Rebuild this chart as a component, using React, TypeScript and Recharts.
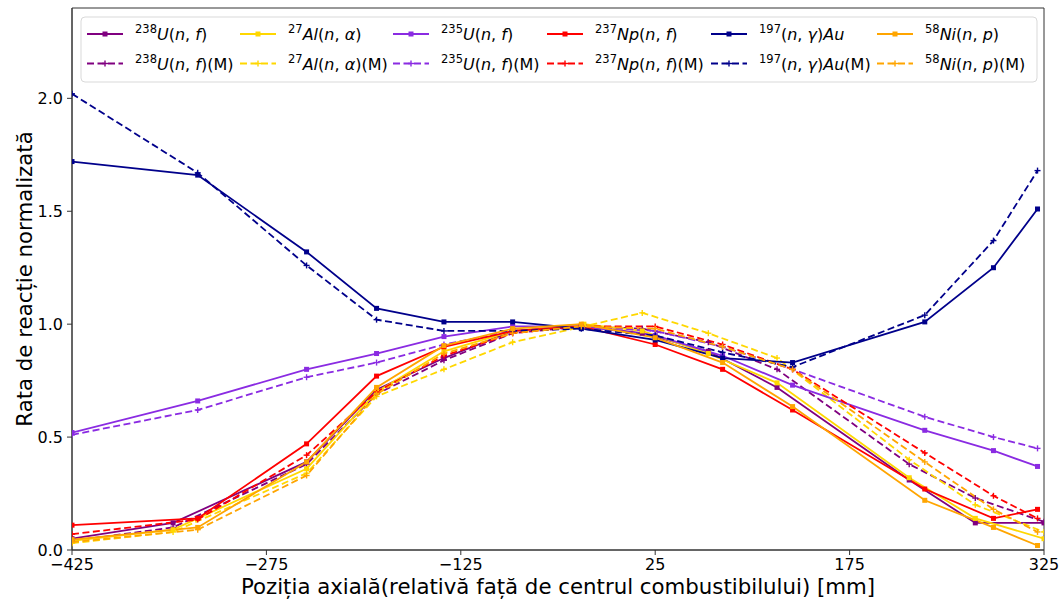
import React from "react";
import { LineChart, Line, XAxis, YAxis, ReferenceArea } from "recharts";

// axial positions (mm) of the two detector sets
const X_A = [-425, -328, -244, -190, -138, -85, -32, 25, 77, 131, 233, 286, 320];
const X_B = [-425, -347, -244, -190, -138, -85, -30, 15, 66, 119, 221, 272, 325];

const U238 = [0.05, 0.12, 0.39, 0.71, 0.85, 0.97, 0.99, 0.96, 0.88, 0.72, 0.31, 0.12, 0.12];
const U238_M = [0.04, 0.1, 0.38, 0.69, 0.84, 0.96, 0.99, 0.98, 0.92, 0.8, 0.38, 0.23, 0.125];
const AL27 = [0.04, 0.09, 0.36, 0.7, 0.88, 0.97, 1.0, 0.97, 0.87, 0.74, 0.32, 0.14, 0.05];
const AL27_M = [0.03, 0.08, 0.34, 0.68, 0.8, 0.92, 0.99, 1.05, 0.96, 0.85, 0.4, 0.2, 0.08];
const U235 = [0.52, 0.66, 0.8, 0.87, 0.945, 0.99, 0.99, 0.95, 0.86, 0.73, 0.53, 0.44, 0.37];
const U235_M = [0.51, 0.62, 0.765, 0.83, 0.91, 0.97, 0.99, 0.97, 0.9, 0.8, 0.59, 0.5, 0.45];
const NP237 = [0.11, 0.14, 0.47, 0.77, 0.9, 0.97, 0.99, 0.91, 0.8, 0.62, 0.27, 0.14, 0.18];
const NP237_M = [0.07, 0.135, 0.42, 0.7, 0.86, 0.96, 0.99, 0.99, 0.91, 0.8, 0.43, 0.24, 0.14];
const AU197 = [1.72, 1.66, 1.32, 1.07, 1.01, 1.01, 0.98, 0.93, 0.85, 0.83, 1.01, 1.25, 1.51];
const AU197_M = [2.02, 1.67, 1.26, 1.02, 0.97, 0.97, 0.98, 0.95, 0.875, 0.81, 1.04, 1.37, 1.68];
const NI58 = [0.046, 0.1, 0.39, 0.72, 0.905, 0.98, 1.0, 0.94, 0.83, 0.635, 0.22, 0.1, 0.02];
const NI58_M = [0.035, 0.09, 0.33, 0.69, 0.87, 0.96, 0.99, 0.98, 0.9, 0.8, 0.39, 0.18, 0.08];

const X_TICKS = [-425, -275, -125, 25, 175, 325];
const Y_TICKS = [0, 0.5, 1, 1.5, 2];

const FONT = "DejaVu Sans";

interface Series {
  id: string;
  iso: string;
  formula: string;
  model: boolean;
  color: string;
  xs: number[];
  ys: number[];
}

const SERIES: Series[] = [
  { id: "u238", iso: "238", formula: "U(n, f)", model: false, color: "#800080", xs: X_B, ys: U238 },
  { id: "u238m", iso: "238", formula: "U(n, f)", model: true, color: "#800080", xs: X_B, ys: U238_M },
  { id: "al27", iso: "27", formula: "Al(n, α)", model: false, color: "#FFD700", xs: X_B, ys: AL27 },
  { id: "al27m", iso: "27", formula: "Al(n, α)", model: true, color: "#FFD700", xs: X_B, ys: AL27_M },
  { id: "u235", iso: "235", formula: "U(n, f)", model: false, color: "#8A2BE2", xs: X_A, ys: U235 },
  { id: "u235m", iso: "235", formula: "U(n, f)", model: true, color: "#8A2BE2", xs: X_A, ys: U235_M },
  { id: "np237", iso: "237", formula: "Np(n, f)", model: false, color: "#FF0000", xs: X_A, ys: NP237 },
  { id: "np237m", iso: "237", formula: "Np(n, f)", model: true, color: "#FF0000", xs: X_A, ys: NP237_M },
  { id: "au197", iso: "197", formula: "(n, γ)Au", model: false, color: "#00008B", xs: X_A, ys: AU197 },
  { id: "au197m", iso: "197", formula: "(n, γ)Au", model: true, color: "#00008B", xs: X_A, ys: AU197_M },
  { id: "ni58", iso: "58", formula: "Ni(n, p)", model: false, color: "#FFA500", xs: X_A, ys: NI58 },
  { id: "ni58m", iso: "58", formula: "Ni(n, p)", model: true, color: "#FFA500", xs: X_A, ys: NI58_M },
];

// legend column left edges (page px)
const LEGEND_COLS = [87, 240, 393, 547, 711, 877];

function Marker({ cx, cy, color, plus }: { cx: number; cy: number; color: string; plus: boolean }) {
  if (plus) {
    return (
      <g stroke={color} strokeWidth={1.4}>
        <line x1={cx - 3} y1={cy} x2={cx + 3} y2={cy} />
        <line x1={cx} y1={cy - 3} x2={cx} y2={cy + 3} />
      </g>
    );
  }
  return <rect x={cx - 2.5} y={cy - 2.5} width={5} height={5} fill={color} />;
}

function fmtX(v: number) {
  return v < 0 ? `\u2212${Math.abs(v)}` : `${v}`;
}

function Formula({ text }: { text: string }) {
  return (
    <>
      {text.split("").map((ch, i) => (
        <tspan key={i} fontStyle={/[A-Za-zαγ]/.test(ch) ? "italic" : "normal"}>
          {ch}
        </tspan>
      ))}
    </>
  );
}

function LegendOverlay() {
  return (
    <svg
      width={1062}
      height={601}
      style={{ position: "absolute", left: 0, top: 0, pointerEvents: "none" }}>
      <rect x={81} y={17} width={956} height={65} rx={4} fill="#fff" fillOpacity={0.8} stroke="#d9d9d9" />
      {SERIES.map((s, i) => {
        const col = Math.floor(i / 2);
        const x0 = LEGEND_COLS[col];
        const y = s.model ? 63.5 : 34;
        return (
          <g key={s.id}>
            <line
              x1={x0}
              x2={x0 + 36}
              y1={y}
              y2={y}
              stroke={s.color}
              strokeWidth={1.8}
              strokeDasharray={s.model ? "7 3.5" : undefined}
            />
            <Marker cx={x0 + 18} cy={y} color={s.color} plus={s.model} />
            <text x={x0 + 48} y={y + 6} fontSize={16} fontFamily={FONT} fill="#000">
              <tspan fontSize={11.5} dy={-7}>
                {s.iso}
              </tspan>
              <tspan dy={7}>
                <Formula text={s.formula} />
              </tspan>
              {s.model && <tspan>(M)</tspan>}
            </text>
          </g>
        );
      })}
      <text x={558} y={594} textAnchor="middle" fontSize={21.3} fontFamily={FONT} fill="#000">
        Poziția axială(relativă față de centrul combustibilului) [mm]
      </text>
      <text
        x={0}
        y={0}
        transform="translate(32 279) rotate(-90)"
        textAnchor="middle"
        fontSize={21.3}
        fontFamily={FONT}
        fill="#000">
        Rata de reacție normalizată
      </text>
    </svg>
  );
}

export default function App() {
  return (
    <div style={{ position: "absolute", left: 0, top: 0, width: 1062, height: 601, background: "#fff" }}>
      <LineChart width={1062} height={601} margin={{ top: 8, right: 18, left: 0, bottom: 0 }}>
        <XAxis
          type="number"
          dataKey="x"
          domain={[-425, 325]}
          ticks={X_TICKS}
          tickFormatter={fmtX}
          allowDataOverflow
          height={51}
          tickSize={5}
          tickMargin={4}
          stroke="#333"
          tick={{ fontSize: 16, fontFamily: FONT, fill: "#000" }}
        />
        <YAxis
          type="number"
          domain={[0, 2.4]}
          ticks={Y_TICKS}
          tickFormatter={(v: number) => v.toFixed(1)}
          allowDataOverflow
          width={72}
          tickSize={5}
          tickMargin={4}
          stroke="#333"
          tick={{ fontSize: 16, fontFamily: FONT, fill: "#000" }}
        />
        <ReferenceArea x1={-425} x2={325} y1={0} y2={2.4} fill="none" stroke="#333" strokeWidth={1} />
        {SERIES.map((s) => (
          <Line
            key={s.id}
            data={s.xs.map((x, i) => ({ x, y: s.ys[i] }))}
            dataKey="y"
            stroke={s.color}
            strokeWidth={1.8}
            strokeDasharray={s.model ? "7 3.5" : undefined}
            dot={(p: any) => (
              <Marker key={p.index} cx={p.cx} cy={p.cy} color={s.color} plus={s.model} />
            )}
            activeDot={false}
            isAnimationActive={false}
          />
        ))}
      </LineChart>
      <LegendOverlay />
    </div>
  );
}
